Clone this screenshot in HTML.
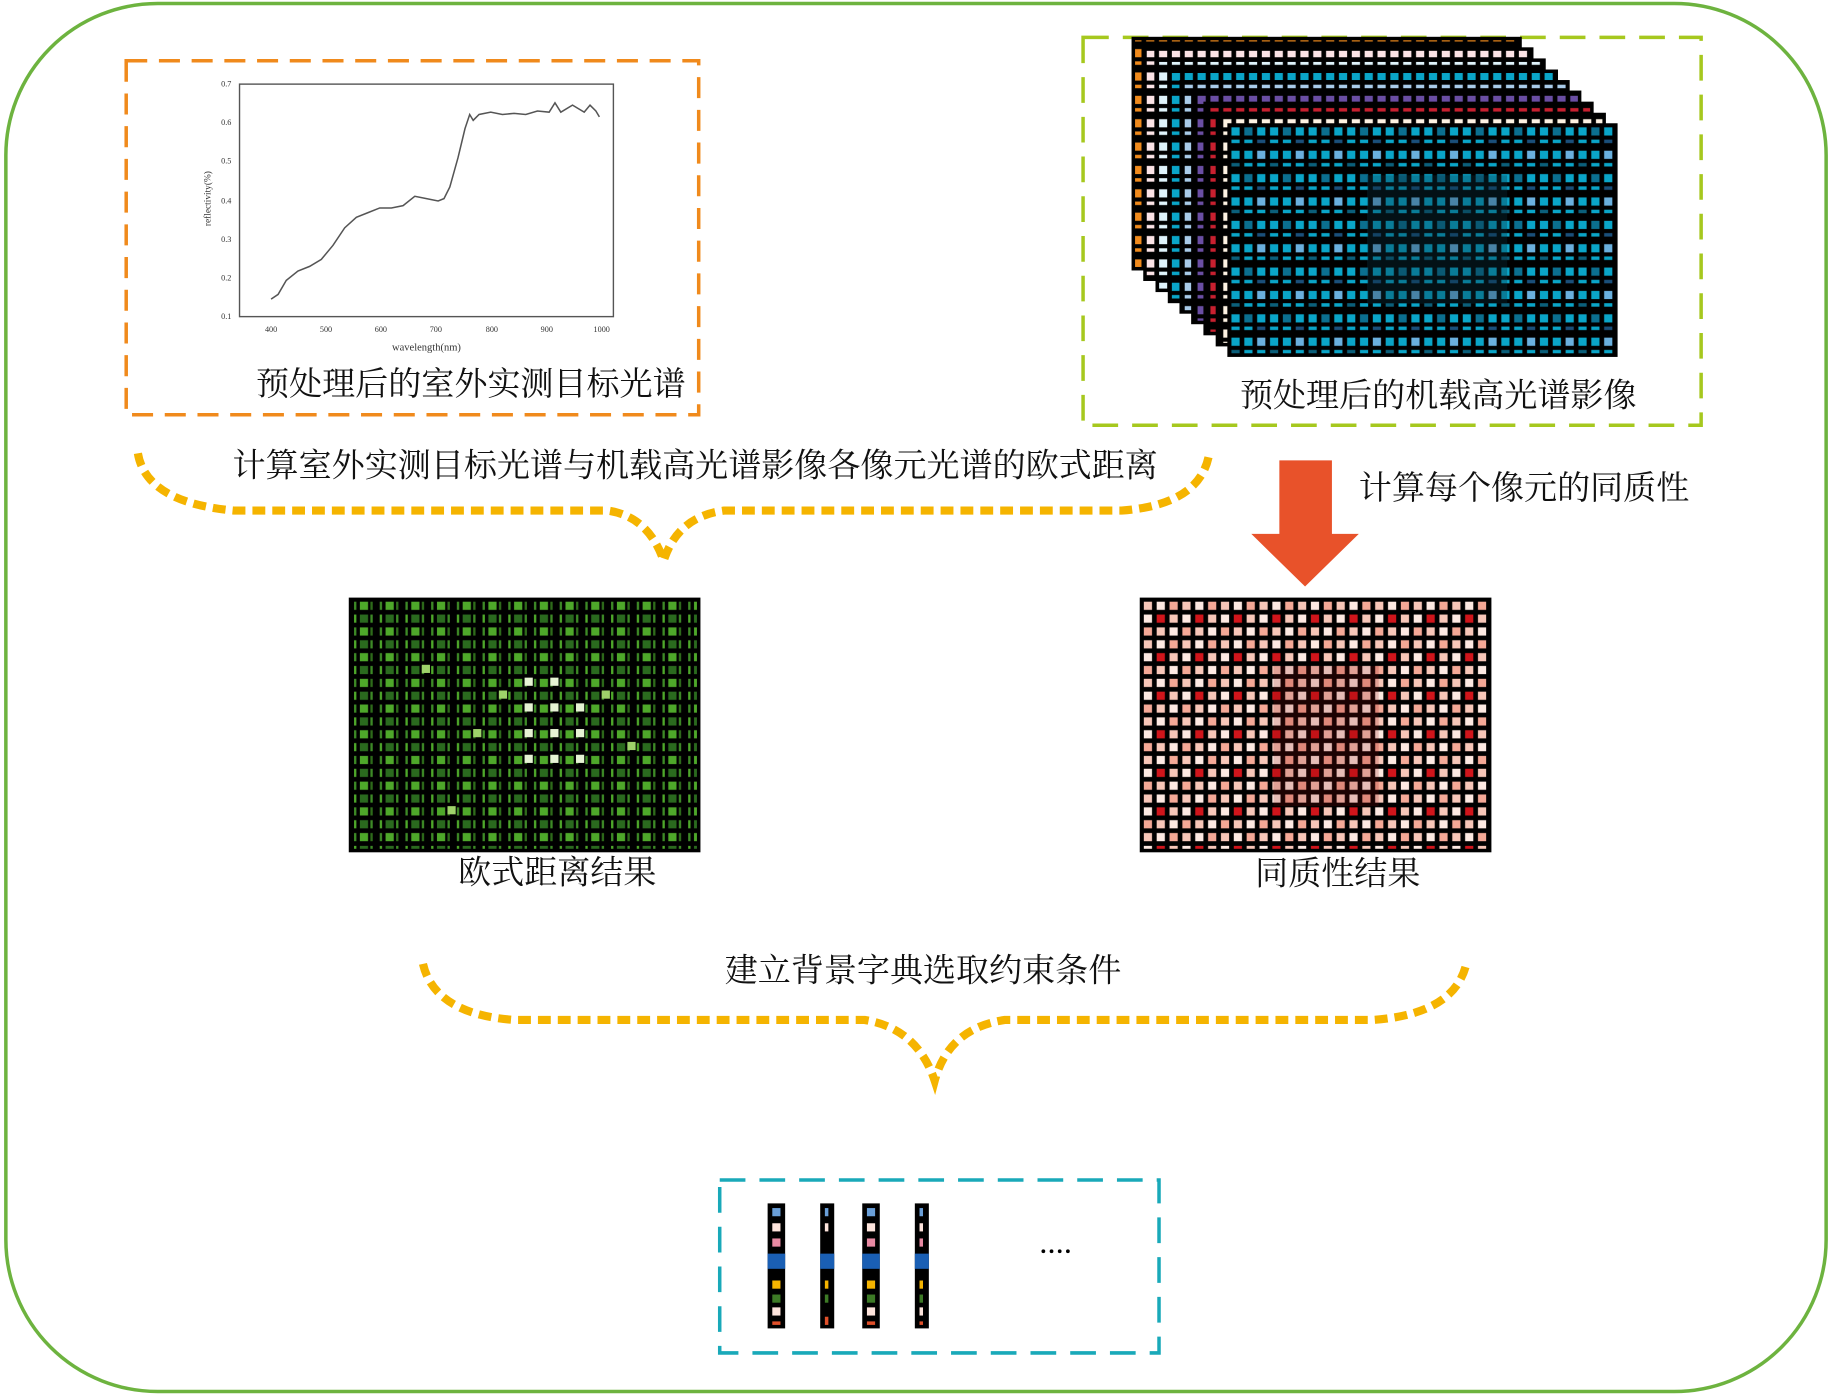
<!DOCTYPE html>
<html><head><meta charset="utf-8"><style>
html,body{margin:0;padding:0;background:#fff;}
svg{display:block;}
text{font-family:"Liberation Serif","Noto Serif CJK SC","Noto Sans CJK SC",serif;}
</style></head><body>
<svg width="1832" height="1395" viewBox="0 0 1568 1194" xmlns="http://www.w3.org/2000/svg">
<defs>
<pattern id="pOr" x="0" y="0" width="11" height="20" patternUnits="userSpaceOnUse"><rect width="11" height="20" fill="#000"/><rect x="2" y="2" width="7" height="7" fill="#f08a1c"/><rect x="2" y="12.5" width="7" height="3" fill="#f08a1c"/></pattern>
<pattern id="pPk" width="11" height="20" patternUnits="userSpaceOnUse"><rect width="11" height="20" fill="#000"/><rect x="2" y="2" width="7" height="7" fill="#fbe3e6"/><rect x="2" y="12.5" width="7" height="3" fill="#fbe3e6"/></pattern>
<pattern id="pLc" width="11" height="20" patternUnits="userSpaceOnUse"><rect width="11" height="20" fill="#000"/><rect x="2" y="2" width="7" height="7" fill="#dff3fb"/><rect x="2" y="12.5" width="7" height="3" fill="#dff3fb"/></pattern>
<pattern id="pCy" width="11" height="20" patternUnits="userSpaceOnUse"><rect width="11" height="20" fill="#000"/><rect x="2" y="2" width="7" height="7" fill="#0aa5c8"/><rect x="2" y="12.5" width="7" height="3" fill="#0aa5c8"/></pattern>
<pattern id="pLb" width="11" height="20" patternUnits="userSpaceOnUse"><rect width="11" height="20" fill="#000"/><rect x="2" y="2" width="7" height="7" fill="#a9cbe9"/><rect x="2" y="12.5" width="7" height="3" fill="#a9cbe9"/></pattern>
<pattern id="pPu" width="11" height="20" patternUnits="userSpaceOnUse"><rect width="11" height="20" fill="#000"/><rect x="2" y="2" width="7" height="7" fill="#6a4ea3"/><rect x="2" y="12.5" width="7" height="3" fill="#6a4ea3"/></pattern>
<pattern id="pRd" width="11" height="20" patternUnits="userSpaceOnUse"><rect width="11" height="20" fill="#000"/><rect x="2" y="2" width="7" height="7" fill="#c8202f"/><rect x="2" y="12.5" width="7" height="3" fill="#c8202f"/></pattern>
<pattern id="pCr" width="11" height="20" patternUnits="userSpaceOnUse"><rect width="11" height="20" fill="#000"/><rect x="2" y="2" width="7" height="7" fill="#fdf2e2"/><rect x="2" y="12.5" width="7" height="3" fill="#fdf2e2"/></pattern>
<pattern id="pFr" x="1052" y="107" width="33" height="40" patternUnits="userSpaceOnUse"><rect width="33" height="40" fill="#000"/>
<rect x="2" y="2" width="7" height="7" fill="#0aa5c8"/><rect x="13" y="2" width="7" height="7" fill="#0b6f8f"/><rect x="24" y="2" width="7" height="7" fill="#0aa5c8"/>
<rect x="2" y="12.5" width="7" height="3" fill="#0aa5c8"/><rect x="13" y="12.5" width="7" height="3" fill="#0aa5c8"/><rect x="24" y="12.5" width="7" height="3" fill="#1a4f7a"/>
<rect x="2" y="22" width="7" height="7" fill="#0aa5c8"/><rect x="13" y="22" width="7" height="7" fill="#0aa5c8"/><rect x="24" y="22" width="7" height="7" fill="#6ab0de"/>
<rect x="2" y="32.5" width="7" height="3" fill="#0b5f7a"/><rect x="13" y="32.5" width="7" height="3" fill="#0aa5c8"/><rect x="24" y="32.5" width="7" height="3" fill="#0aa5c8"/></pattern>
<pattern id="pGr" x="300" y="513" width="22" height="22" patternUnits="userSpaceOnUse"><rect width="22" height="22" fill="#000"/>
<rect x="3" y="2" width="2" height="7" fill="#3d8a26"/><rect x="8" y="2" width="7" height="7" fill="#4ea82a"/><rect x="17" y="2" width="2" height="7" fill="#2e6b1a"/>
<rect x="3" y="13" width="2" height="7" fill="#4ea82a"/><rect x="8" y="13" width="7" height="7" fill="#2a6a1e"/><rect x="17" y="13" width="2" height="7" fill="#3d8a26"/></pattern>
<pattern id="pRg" x="977" y="513" width="33" height="33" patternUnits="userSpaceOnUse"><rect width="33" height="33" fill="#000"/>
<rect x="2" y="2" width="7" height="7" fill="#f7c6b8"/><rect x="13" y="2" width="7" height="7" fill="#fde9e2"/><rect x="24" y="2" width="7" height="7" fill="#f4a896"/>
<rect x="2" y="13" width="7" height="7" fill="#fde9e2"/><rect x="13" y="13" width="7" height="7" fill="#d0151b"/><rect x="24" y="13" width="7" height="7" fill="#f7c6b8"/>
<rect x="2" y="24" width="7" height="7" fill="#f4a896"/><rect x="13" y="24" width="7" height="7" fill="#f7c6b8"/><rect x="24" y="24" width="7" height="7" fill="#fde9e2"/></pattern>
</defs>

<rect x="5" y="3" width="1558" height="1188" rx="130" ry="130" fill="none" stroke="#6db33f" stroke-width="3"/>

<rect x="108" y="52" width="490" height="303" fill="none" stroke="#f08a1c" stroke-width="3" stroke-dasharray="18,10"/>
<rect x="205" y="72" width="320" height="199" fill="none" stroke="#555" stroke-width="1.2"/>
<g font-size="7" fill="#333" text-anchor="end">
<text x="198" y="74">0.7</text><text x="198" y="107">0.6</text><text x="198" y="140">0.5</text><text x="198" y="174">0.4</text><text x="198" y="207">0.3</text><text x="198" y="240">0.2</text><text x="198" y="273">0.1</text>
</g>
<g font-size="7" fill="#333" text-anchor="middle">
<text x="232" y="284">400</text><text x="279" y="284">500</text><text x="326" y="284">600</text><text x="373" y="284">700</text><text x="421" y="284">800</text><text x="468" y="284">900</text><text x="515" y="284">1000</text>
<text x="365" y="300" font-size="9">wavelength(nm)</text>
</g>
<text x="0" y="0" font-size="8" fill="#333" text-anchor="middle" transform="translate(180,170) rotate(-90)">reflectivity(%)</text>
<polyline fill="none" stroke="#555" stroke-width="1.3" points="232,256 238,252 245,240 255,232 265,228 275,222 285,210 295,195 305,186 315,182 325,178 335,178 345,176 355,168 365,170 375,172 380,170 385,160 392,135 398,110 402,98 405,103 410,98 420,96 430,98 440,97 450,98 460,95 470,96 475,88 480,96 490,90 500,96 505,90 510,95 513,100"/>
<text x="403" y="338" font-size="28.3" text-anchor="middle" fill="#111">预处理后的室外实测目标光谱</text>

<rect x="927" y="32" width="529" height="332" fill="none" stroke="#a6c81e" stroke-width="3" stroke-dasharray="22,12"/>
<g stroke="#000" stroke-width="3">
<rect x="970" y="33" width="331" height="197" fill="url(#pOr)"/>
<rect x="980" y="42" width="331" height="197" fill="url(#pPk)"/>
<rect x="990.5" y="51.5" width="331" height="197" fill="url(#pLc)"/>
<rect x="1001" y="61" width="331" height="197" fill="url(#pCy)"/>
<rect x="1011" y="70" width="331" height="197" fill="url(#pLb)"/>
<rect x="1021" y="79" width="331" height="197" fill="url(#pPu)"/>
<rect x="1031.5" y="88.5" width="331" height="197" fill="url(#pRd)"/>
<rect x="1042" y="98" width="331" height="197" fill="url(#pCr)"/>
<rect x="1052" y="107" width="331" height="197" fill="url(#pFr)"/>
</g>
<rect x="1170" y="150" width="120" height="110" fill="#0a3040" opacity="0.35"/>
<text x="1231" y="348" font-size="28.3" text-anchor="middle" fill="#111">预处理后的机载高光谱影像</text>

<path d="M118,388 Q125,430 200,437 L520,437 Q555,442 568,480 Q580,442 620,437 L960,437 Q1028,432 1035,388" fill="none" stroke="#f5b400" stroke-width="7" stroke-dasharray="11,6"/>
<text x="595" y="408" font-size="28.3" text-anchor="middle" fill="#111">计算室外实测目标光谱与机载高光谱影像各像元光谱的欧式距离</text>

<polygon points="1095,394 1140,394 1140,457 1163,457 1117,502 1071,457 1095,457" fill="#e8522a"/>
<text x="1163" y="427" font-size="28.3" fill="#111">计算每个像元的同质性</text>

<rect x="300" y="513" width="298" height="215" fill="url(#pGr)" stroke="#000" stroke-width="3"/>
<g fill="#e6f3d4">
<rect x="449" y="580" width="7" height="7"/><rect x="471" y="580" width="7" height="7"/><rect x="449" y="602" width="7" height="7"/><rect x="471" y="602" width="7" height="7"/><rect x="493" y="602" width="7" height="7"/><rect x="449" y="624" width="7" height="7"/><rect x="471" y="624" width="7" height="7"/><rect x="493" y="624" width="7" height="7"/><rect x="449" y="646" width="7" height="7"/><rect x="471" y="646" width="7" height="7"/><rect x="493" y="646" width="7" height="7"/>
</g>
<g fill="#9ed26a">
<rect x="405" y="624" width="7" height="7"/><rect x="427" y="591" width="7" height="7"/><rect x="515" y="591" width="7" height="7"/><rect x="361" y="569" width="7" height="7"/><rect x="383" y="690" width="7" height="7"/><rect x="537" y="635" width="7" height="7"/>
</g>
<text x="477" y="756" font-size="28.3" text-anchor="middle" fill="#111">欧式距离结果</text>

<rect x="977" y="513" width="298" height="215" fill="url(#pRg)" stroke="#000" stroke-width="3"/>
<rect x="1090" y="570" width="90" height="120" fill="#8a0a0a" opacity="0.2"/>
<text x="1145" y="757" font-size="28.3" text-anchor="middle" fill="#111">同质性结果</text>

<text x="790" y="840" font-size="28.3" text-anchor="middle" fill="#111">建立背景字典选取约束条件</text>
<path d="M362,825 Q372,868 440,873 L740,873 Q785,880 800,925 Q812,880 860,873 L1175,873 Q1245,868 1255,825" fill="none" stroke="#f5b400" stroke-width="7" stroke-dasharray="11,6"/>

<rect x="616" y="1010" width="376" height="148" fill="none" stroke="#19a9b9" stroke-width="3" stroke-dasharray="22,12"/>
<g>
<rect x="657" y="1030" width="15" height="107" fill="#000"/>
<rect x="702" y="1030" width="12" height="107" fill="#000"/>
<rect x="738" y="1030" width="15" height="107" fill="#000"/>
<rect x="783" y="1030" width="12" height="107" fill="#000"/>
<g fill="#6a9fd8"><rect x="661" y="1034" width="7" height="7"/><rect x="706" y="1034" width="3" height="7"/><rect x="742" y="1034" width="7" height="7"/><rect x="787" y="1034" width="3" height="7"/></g>
<g fill="#fde4dc"><rect x="661" y="1047" width="7" height="7"/><rect x="706" y="1047" width="3" height="7"/><rect x="742" y="1047" width="7" height="7"/><rect x="787" y="1047" width="3" height="7"/><rect x="661" y="1119" width="7" height="7"/><rect x="742" y="1119" width="7" height="7"/><rect x="787" y="1119" width="3" height="7"/></g>
<g fill="#e98aa3"><rect x="661" y="1060" width="7" height="7"/><rect x="742" y="1060" width="7" height="7"/><rect x="787" y="1060" width="3" height="7"/></g>
<g fill="#1a5fb4"><rect x="657" y="1073" width="15" height="13"/><rect x="702" y="1073" width="12" height="13"/><rect x="738" y="1073" width="15" height="13"/><rect x="783" y="1073" width="12" height="13"/></g>
<g fill="#f5b400"><rect x="661" y="1096" width="7" height="7"/><rect x="706" y="1096" width="3" height="7"/><rect x="742" y="1096" width="7" height="7"/><rect x="787" y="1096" width="3" height="7"/></g>
<g fill="#3d7a26"><rect x="661" y="1108" width="7" height="7"/><rect x="706" y="1108" width="3" height="7"/><rect x="742" y="1108" width="7" height="7"/><rect x="787" y="1108" width="3" height="7"/></g>
<g fill="#e0502a"><rect x="661" y="1131" width="7" height="3"/><rect x="706" y="1127" width="3" height="7"/><rect x="742" y="1131" width="7" height="3"/><rect x="787" y="1131" width="3" height="3"/></g>
</g>
<g fill="#000"><circle cx="893" cy="1071" r="1.6"/><circle cx="900" cy="1071" r="1.6"/><circle cx="907" cy="1071" r="1.6"/><circle cx="914" cy="1071" r="1.6"/></g>
</svg>
</body></html>
